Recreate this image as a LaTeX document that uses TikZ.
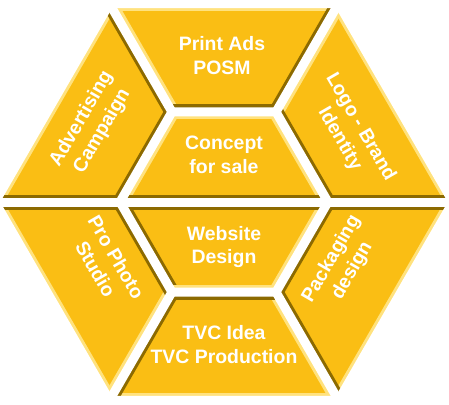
\documentclass[tikz,border=0pt]{standalone}
\usepackage{fontspec}
\setmainfont{Liberation Sans}
\definecolor{gold}{HTML}{FABE14}
\definecolor{olive}{HTML}{8C6A00}
\definecolor{pale}{HTML}{FFE27E}
\newcommand{\tile}[8]{%
  \begin{scope}
    \clip (#1)--(#2)--(#3)--(#4)--cycle;
    \fill[gold] (#1)--(#2)--(#3)--(#4)--cycle;
    \draw[bevel, #5] (#1)--(#2);
    \draw[bevel, #6] (#2)--(#3);
    \draw[bevel, #7] (#3)--(#4);
    \draw[bevel, #8] (#4)--(#1);
  \end{scope}}
\begin{document}
\begin{tikzpicture}[x=1bp, y=1bp,
    bevel/.style={line width=15bp},
    gapline/.style={white, line width=9bp},
    lbl/.style={text=white, font=\fontsize{19.5}{24}\selectfont\bfseries, align=center, inner sep=0}]
    \pgfmathsetmacro{\R}{229}
    \pgfmathsetmacro{\r}{104}
    \useasboundingbox (-224,-202) rectangle (225,202);
    \foreach \k in {0,...,5} {
        \coordinate (O\k) at (60*\k:\R);
        \coordinate (I\k) at (60*\k:\r);
        \coordinate (E\k) at (60*\k:\R+20);
    }
    \tile{O1}{O2}{I2}{I1}{pale}{pale}{olive}{olive}
    \tile{O2}{O3}{I3}{I2}{pale}{olive}{olive}{olive}
    \tile{O0}{O1}{I1}{I0}{pale}{pale}{olive}{olive}
    \tile{O3}{O4}{I4}{I3}{pale}{pale}{olive}{olive}
    \tile{O5}{O0}{I0}{I5}{pale}{olive}{olive}{olive}
    \tile{O4}{O5}{I5}{I4}{pale}{pale}{olive}{olive}
    \tile{I0}{I1}{I2}{I3}{pale}{pale}{pale}{olive}
    \tile{I3}{I4}{I5}{I0}{olive}{pale}{pale}{olive}
    \draw[gapline] (O0)--(O1)--(O2)--(O3)--(O4)--(O5)--cycle;
    \draw[gapline] (I0)--(I1)--(I2)--(I3)--(I4)--(I5)--cycle;
    \draw[gapline] (E3)--(E0);
    \foreach \k in {1,2,4,5} \draw[gapline] (I\k)--(E\k);
    \node[lbl] (print) at (-2,146) {Print Ads\\POSM};
    \node[lbl] (concept) at (0,47) {Concept\\for sale};
    \node[lbl] (web) at (0,-45) {Website\\Design};
    \node[lbl] (tvc) at (0,-143) {TVC Idea\\TVC Production};
    \node[lbl, rotate=60] (adv) at (-132,77) {Advertising\\Campaign};
    \node[lbl, rotate=-60] (logo) at (126,69) {Logo - Brand\\Identity};
    \node[lbl, rotate=-60] (photo) at (-118,-61) {Pro Photo\\Studio};
    \node[lbl, rotate=60] (pack) at (118,-63) {Packaging\\design};
\end{tikzpicture}
\end{document}
